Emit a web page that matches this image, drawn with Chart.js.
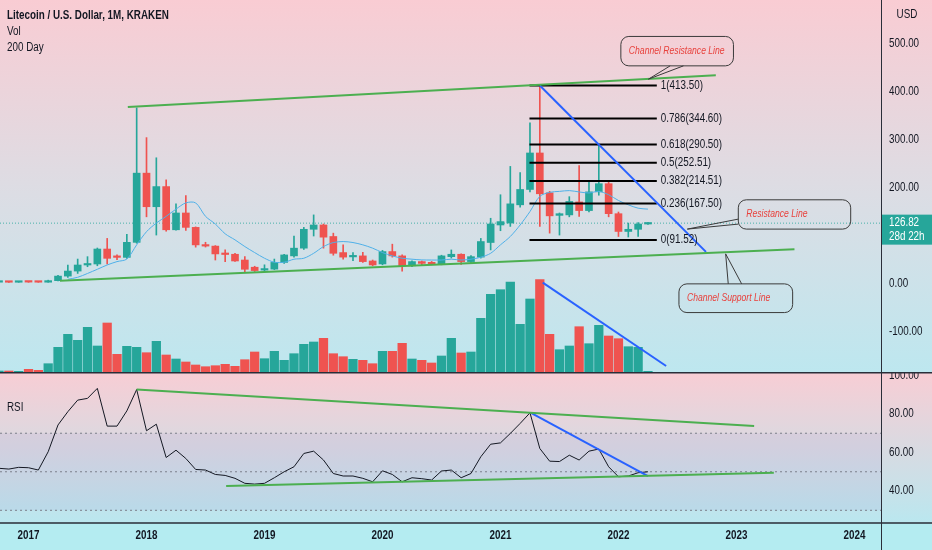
<!DOCTYPE html>
<html>
<head>
<meta charset="utf-8">
<script src="https://cdn.jsdelivr.net/npm/chart.js@4.4.1/dist/chart.umd.min.js"></script>
<style>
  html, body { margin: 0; padding: 0; }
  body { width: 932px; height: 550px; position: relative; overflow: hidden; background: #b4ecf1; }
  #pricePane { position: absolute; left: 0; top: 0; width: 932px; height: 372px;
    background: linear-gradient(#f9ccd3, #dcdde4 52%, #bde7ef); }
  #rsiPane { position: absolute; left: 0; top: 372px; width: 932px; height: 178px;
    background: linear-gradient(#f8cdd4 0px, #bae7ef 151px, #b4ecf1 151px); }
  canvas { position: absolute; left: 0; top: 0; }
</style>
</head>
<body>
<div id="pricePane"><canvas id="priceChart" width="932" height="372"></canvas></div>
<div id="rsiPane"><canvas id="rsiChart" width="932" height="178"></canvas></div>
<script>
// months are counted from Jan 2017 (= 0); first candle is Oct 2016
const FIRST_MONTH = -3;
const X_MIN = -2.9, X_MAX = 86.7;

const OPEN = [3.8, 3.9, 3.7, 4.3, 4.0, 3.8, 7.0, 16.5, 27, 39.6, 41.7, 72.9, 57, 55.5, 86.8, 231, 161, 203, 113, 148,
  118, 81.5, 79, 62.7, 62, 50, 35, 29, 31, 45, 58.6, 74.7, 114, 123, 99, 65.5, 56.5, 58.6, 48, 41.8,
  67.6, 58.6, 38, 46.7, 45, 41.8, 57, 62, 46.7, 56, 86.5, 123, 127, 165, 197, 273, 190, 143, 144, 171,
  153, 192, 209, 146.5, 109.5, 114, 125];
const HIGH = [4.1, 4.0, 4.5, 4.6, 4.1, 8.0, 18, 39.6, 52, 57, 75, 95, 61, 103.5, 367, 305, 263, 217, 167, 184,
  119, 87, 80, 71, 64, 57, 37, 40, 52, 62, 100, 118, 144, 125, 106, 81.6, 65.5, 66, 50, 70,
  83, 61, 48.5, 48, 47, 60, 71, 63, 59, 95, 137, 186, 245, 232, 336, 413.5, 193, 148, 182, 247,
  214, 291, 215, 150, 127, 128, 128];
const LOW = [3.6, 3.5, 3.6, 3.6, 3.6, 3.7, 6.5, 14, 22, 36, 38, 41.7, 50.7, 53.5, 85, 140, 102, 110, 112, 111.5,
  76.8, 77, 50, 46.6, 47, 25.7, 26, 27, 30, 43, 56, 72, 100, 74.7, 60, 52, 48.7, 45, 38, 40,
  56, 27, 36, 39, 40, 40, 54, 41, 44, 54, 71, 111, 120, 160, 192, 120, 106, 102, 140, 141,
  150, 185, 140, 99, 98, 99, 124];
const CLOSE = [3.9, 3.7, 4.3, 4.0, 3.8, 7.0, 16.5, 27, 39.6, 41.7, 72.9, 53.5, 55.5, 86.8, 231, 161, 203, 113, 148, 118,
  81.5, 79, 62.7, 61.5, 48, 30.7, 28, 32, 45, 60.6, 74.7, 114, 123, 97.6, 64, 56, 57.5, 46.7, 39.7, 67.6,
  58.6, 38, 46.7, 43, 42, 58.6, 62, 46.7, 57, 88.5, 125, 130, 167, 197, 273, 188, 142, 146.5, 172, 153,
  192, 209, 146.5, 109.5, 114, 125, 126.82];
// volume, relative units
const VOLUME = [1, 1, 0.7, 2.7, 1.7, 8.3, 24.7, 37.7, 31.7, 44.7, 26, 49, 17.7, 25.7, 24.7, 19.3, 30.7, 17, 13, 10,
  7, 5.3, 6.3, 7.7, 5.7, 12.3, 20, 13.3, 20.7, 11.7, 18.3, 27.7, 30, 33.7, 18.3, 15.3, 12.7, 11.7, 8.3, 20.7,
  20.7, 28.7, 13, 11.7, 9, 16, 33.7, 19, 20, 53.7, 77.7, 82.3, 90, 47.7, 73, 92.3, 37.7, 22.3, 26, 45.3,
  28.3, 46.7, 36, 33.3, 25.3, 24.7, 0.7];
const MA200 = [null, null, null, null, null, null, null, 9.8, 14, 22, 30.7, 39.7, 46.7, 52, 81.6, 109, 127, 141, 156, 169,
  169, 141, 125, 104.6, 92, 78, 65.5, 53.7, 45.4, 45.4, 51.7, 53.7, 64, 78, 86.4, 88.5, 86.4, 81.6, 74.7, 65.5,
  58.6, 53.7, 51.7, 50.2, 50, 50, 51.7, 50, 51.7, 55.8, 64, 81.6, 99, 123, 151, 182.6, 191, 193, 194.6, 191.8,
  189.7, 193, 186, 174, 165, 158, 156];
const RSI = [51.8, 51.4, 52.3, 52.1, 50.9, 60.4, 74.3, 81.2, 87.2, 88.1, 93.3, 73.7, 73.7, 81.6, 92.7, 71.3, 74.7, 57.4, 61.2, 56.9,
  51.2, 50.9, 48.6, 48.1, 46.6, 44.0, 43.6, 44.0, 46.9, 50.0, 52.6, 59.5, 60.7, 56.1, 49.1, 47.8, 47.8, 46.6, 44.8, 50.5,
  48.6, 44.8, 46.9, 46.4, 45.7, 50.4, 50.9, 46.9, 49.1, 57.8, 64.3, 65.0, 69.9, 75.1, 80.6, 62.1, 55.5, 55.3, 58.6, 56.1,
  60.7, 61.8, 52.6, 47.4, 47.8, 49.5, 50.0];

const PRICE_TICKS = [-100, 0, 100, 200, 300, 400, 500];
const RSI_TICKS = [40, 60, 80, 100];
const RSI_LEVELS = [70, 50, 30];
const YEAR_TICKS = [0, 12, 24, 36, 48, 60, 72, 84];
const FIRST_YEAR = 2017;

const FIB_RATIOS = [1, 0.786, 0.618, 0.5, 0.382, 0.236, 0];
const FIB_PRICES = [413.50, 344.60, 290.50, 252.51, 214.51, 167.50, 91.52];
const FIB_START = 50.95, FIB_END = 63.9;

// drawn lines: [month, value] pairs
const CHANNEL_TOP = [[10.1, 369], [69.9, 435]];
const CHANNEL_BOTTOM = [[3.2, 6.9], [77.9, 72.6]];
const PRICE_DOWNTREND = [[52, 413.5], [68.9, 67]];
const VOL_DOWNTREND = [[52.3, 89.3], [64.85, 6]];
const RSI_TOP = [[11, 92.7], [73.8, 73.8]];
const RSI_BOTTOM = [[20.1, 42.6], [75.8, 49.5]];
const RSI_DOWNTREND = [[51.1, 80.6], [63, 47.8]];

const LAST_PRICE = 126.82;
const COUNTDOWN = '28d 22h';
const TITLE = 'Litecoin / U.S. Dollar, 1M, KRAKEN';

// callout anchors in data coords, box/pointer offsets in px from the anchor
const CALLOUTS = [
  { text: 'Channel Resistance Line', at: [63.05, 426.8], box: [-27.6, -42.7, 112.6, 29.4], base: [[21.7, -13.3], [35, -13.3]] },
  { text: 'Resistance Line', at: [67.0, 114.4], box: [51, -29.3, 112.4, 29.3], base: [[51, -10], [51, -5]] },
  { text: 'Channel Support Line', at: [70.9, 62.8], box: [-46.7, 30, 113.7, 28.7], base: [[2.6, 30], [16, 30]] }
];

const FONT = "'Liberation Sans Narrow', 'Liberation Sans', Arial, sans-serif";
const NARROW = 0.82; // squeeze text horizontally, the original uses a condensed face
const TEXT = '#131722';
const UP = '#26a69a', DOWN = '#ef5350';
const GREEN = '#4caf50', BLUE = '#2962ff';
const AXIS_W = 51;

Chart.defaults.font.family = FONT;
Chart.defaults.font.size = 12;
Chart.defaults.color = TEXT;

const months = OPEN.map((_, k) => FIRST_MONTH + k);
const colors = months.map((_, k) => CLOSE[k] >= OPEN[k] ? UP : DOWN);
const pts = pairs => pairs.map(p => ({ x: p[0], y: p[1] }));
const fmt2 = v => v.toFixed(2);

const noPad = s => { s.paddingTop = 0; s.paddingBottom = 0; s.paddingLeft = 0; s.paddingRight = 0; };

const seg = (data, color, axis) => ({
  type: 'line', data: pts(data), borderColor: color, borderWidth: 2,
  pointRadius: 0, yAxisID: axis, order: 1
});

function narrowText(ctx, text, x, y, align) {
  ctx.save();
  ctx.translate(x, y);
  ctx.scale(NARROW, 1);
  ctx.textAlign = align || 'left';
  ctx.fillText(text, 0, 0);
  ctx.restore();
}

// tick labels of a vertical scale, written right of the axis line
function yLabels(chart, scale, fmt) {
  const { ctx, chartArea } = chart;
  ctx.save();
  ctx.fillStyle = TEXT;
  ctx.font = `12px ${FONT}`;
  ctx.textBaseline = 'middle';
  scale.ticks.forEach(t => narrowText(ctx, fmt(t.value), chartArea.right + 8, scale.getPixelForValue(t.value)));
  ctx.restore();
}

function drawCallout(ctx, tx, ty, c) {
  const [dx, dy, w, h] = c.box;
  ctx.save();
  ctx.strokeStyle = '#3a3a3a';
  ctx.lineWidth = 1;
  ctx.beginPath();
  ctx.roundRect(tx + dx, ty + dy, w, h, 8);
  ctx.stroke();
  ctx.beginPath();
  ctx.moveTo(tx + c.base[0][0], ty + c.base[0][1]);
  ctx.lineTo(tx, ty);
  ctx.lineTo(tx + c.base[1][0], ty + c.base[1][1]);
  ctx.stroke();
  ctx.fillStyle = '#e8413c';
  ctx.font = `italic 10.5px ${FONT}`;
  ctx.textBaseline = 'middle';
  narrowText(ctx, c.text, tx + dx + 8, ty + dy + h / 2);
  ctx.restore();
}

const priceOverlay = {
  id: 'priceOverlay',
  afterDraw(chart) {
    const { ctx, chartArea, scales: { x, y } } = chart;
    ctx.save();
    ctx.textBaseline = 'middle';
    ctx.fillStyle = TEXT;
    ctx.font = `12px ${FONT}`;
    const fx = x.getPixelForValue(FIB_END) + 4;
    FIB_RATIOS.forEach((r, k) => {
      narrowText(ctx, `${r}(${FIB_PRICES[k].toFixed(2)})`, fx, y.getPixelForValue(FIB_PRICES[k]));
    });
    CALLOUTS.forEach(c => drawCallout(ctx, x.getPixelForValue(c.at[0]), y.getPixelForValue(c.at[1]), c));

    // legend
    ctx.fillStyle = TEXT;
    ctx.font = `bold 12px ${FONT}`;
    narrowText(ctx, TITLE, 7, 16);
    ctx.font = `12px ${FONT}`;
    narrowText(ctx, 'Vol', 7, 32);
    narrowText(ctx, '200 Day', 7, 48);
    narrowText(ctx, 'USD', chartArea.right + 26, 15, 'center');
    ctx.restore();

    yLabels(chart, y, fmt2);

    // last price tag
    const py = y.getPixelForValue(LAST_PRICE);
    ctx.save();
    ctx.fillStyle = UP;
    ctx.fillRect(chartArea.right + 1, py - 8.5, AXIS_W, 30);
    ctx.fillStyle = '#ffffff';
    ctx.font = `12px ${FONT}`;
    ctx.textBaseline = 'middle';
    narrowText(ctx, LAST_PRICE.toFixed(2), chartArea.right + 8, py);
    narrowText(ctx, COUNTDOWN, chartArea.right + 8, py + 14);
    ctx.restore();
  }
};

new Chart(document.getElementById('priceChart'), {
  type: 'bar',
  data: {
    datasets: [
      { type: 'bar', data: months.map((m, k) => ({ x: m, y: VOLUME[k] })), backgroundColor: colors,
        barThickness: 8.6, grouped: false, yAxisID: 'yv', order: 10 },
      { type: 'bar', data: months.map((m, k) => ({ x: m, y: [LOW[k], HIGH[k]] })), backgroundColor: colors,
        barThickness: 1, grouped: false, yAxisID: 'y', order: 6 },
      { type: 'bar', data: months.map((m, k) => ({ x: m, y: [OPEN[k], CLOSE[k]] })), backgroundColor: colors,
        barThickness: 7, minBarLength: 1.5, grouped: false, yAxisID: 'y', order: 5 },
      { type: 'line', data: months.map((m, k) => ({ x: m, y: MA200[k] })).filter(p => p.y !== null),
        borderColor: '#4fb0e8', borderWidth: 1, pointRadius: 0, tension: 0.3, yAxisID: 'y', order: 4 },
      { type: 'line', data: pts([[X_MIN, LAST_PRICE], [X_MAX, LAST_PRICE]]), borderColor: 'rgba(38,166,154,0.8)',
        borderWidth: 1, borderDash: [1, 2], pointRadius: 0, yAxisID: 'y', order: 7 },
      ...FIB_PRICES.map(p => ({
        type: 'line', data: pts([[FIB_START, p], [FIB_END, p]]), borderColor: '#000000', borderWidth: 2,
        pointRadius: 0, yAxisID: 'y', order: 3
      })),
      seg(CHANNEL_TOP, GREEN, 'y'),
      seg(CHANNEL_BOTTOM, GREEN, 'y'),
      seg(PRICE_DOWNTREND, BLUE, 'y'),
      seg(VOL_DOWNTREND, BLUE, 'yv')
    ]
  },
  options: {
    responsive: false,
    animation: false,
    layout: { padding: 0 },
    plugins: { legend: { display: false }, tooltip: { enabled: false } },
    scales: {
      x: { type: 'linear', min: X_MIN, max: X_MAX, offset: false, display: false, afterFit: noPad },
      y: {
        position: 'right', min: -183.3, max: 591.7,
        grid: { display: false, drawTicks: false },
        border: { display: true, color: '#2a2e39', width: 1 },
        ticks: { display: false },
        afterBuildTicks: s => { s.ticks = PRICE_TICKS.map(v => ({ value: v })); },
        afterFit: s => { s.width = AXIS_W; noPad(s); }
      },
      yv: { display: false, min: 0, max: 372, afterFit: noPad }
    }
  },
  plugins: [priceOverlay]
});

const rsiOverlay = {
  id: 'rsiOverlay',
  beforeDatasetsDraw(chart) {
    const { ctx, chartArea: a, scales: { y } } = chart;
    const t = y.getPixelForValue(RSI_LEVELS[0]);
    const b = y.getPixelForValue(RSI_LEVELS[2]);
    ctx.save();
    ctx.fillStyle = 'rgba(126,87,194,0.08)';
    ctx.fillRect(a.left, t, a.right - a.left, b - t);
    ctx.restore();
  },
  afterDraw(chart) {
    const { ctx, chartArea: a, scales: { x, y } } = chart;
    yLabels(chart, y, fmt2);
    ctx.save();
    ctx.fillStyle = TEXT;
    ctx.font = `12px ${FONT}`;
    ctx.textBaseline = 'middle';
    narrowText(ctx, 'RSI', 7, 36);
    ctx.font = `bold 12px ${FONT}`;
    x.ticks.forEach(t => narrowText(ctx, String(FIRST_YEAR + t.value / 12), x.getPixelForValue(t.value), a.bottom + 13, 'center'));
    ctx.strokeStyle = '#2a2e39';
    ctx.lineWidth = 1.5;
    ctx.beginPath();
    ctx.moveTo(0, 0.75); ctx.lineTo(chart.width, 0.75);
    ctx.moveTo(0, a.bottom); ctx.lineTo(chart.width, a.bottom);
    ctx.stroke();
    ctx.lineWidth = 1;
    ctx.beginPath();
    ctx.moveTo(a.right + 0.5, 0); ctx.lineTo(a.right + 0.5, chart.height);
    ctx.stroke();
    ctx.restore();
  }
};

new Chart(document.getElementById('rsiChart'), {
  type: 'line',
  data: {
    datasets: [
      { data: months.map((m, k) => ({ x: m, y: RSI[k] })), borderColor: '#131722', borderWidth: 1,
        pointRadius: 0, order: 2 },
      ...RSI_LEVELS.map(v => ({
        data: pts([[X_MIN, v], [X_MAX, v]]), borderColor: '#7b7f8a', borderWidth: 1, borderDash: [2, 3],
        pointRadius: 0, order: 5
      })),
      seg(RSI_TOP, GREEN, 'y'),
      seg(RSI_BOTTOM, GREEN, 'y'),
      seg(RSI_DOWNTREND, BLUE, 'y')
    ]
  },
  options: {
    responsive: false,
    animation: false,
    layout: { padding: 0 },
    plugins: { legend: { display: false }, tooltip: { enabled: false } },
    scales: {
      x: {
        type: 'linear', min: X_MIN, max: X_MAX, offset: false,
        grid: { display: false, drawTicks: false },
        border: { display: false },
        ticks: { display: false },
        afterBuildTicks: s => { s.ticks = YEAR_TICKS.map(v => ({ value: v })); },
        afterFit: s => { s.height = 27; noPad(s); }
      },
      y: {
        position: 'right', min: 23.4, max: 101.8,
        grid: { display: false, drawTicks: false },
        border: { display: true, color: '#2a2e39', width: 1 },
        ticks: { display: false },
        afterBuildTicks: s => { s.ticks = RSI_TICKS.map(v => ({ value: v })); },
        afterFit: s => { s.width = AXIS_W; noPad(s); }
      }
    }
  },
  plugins: [rsiOverlay]
});
</script>
</body>
</html>
